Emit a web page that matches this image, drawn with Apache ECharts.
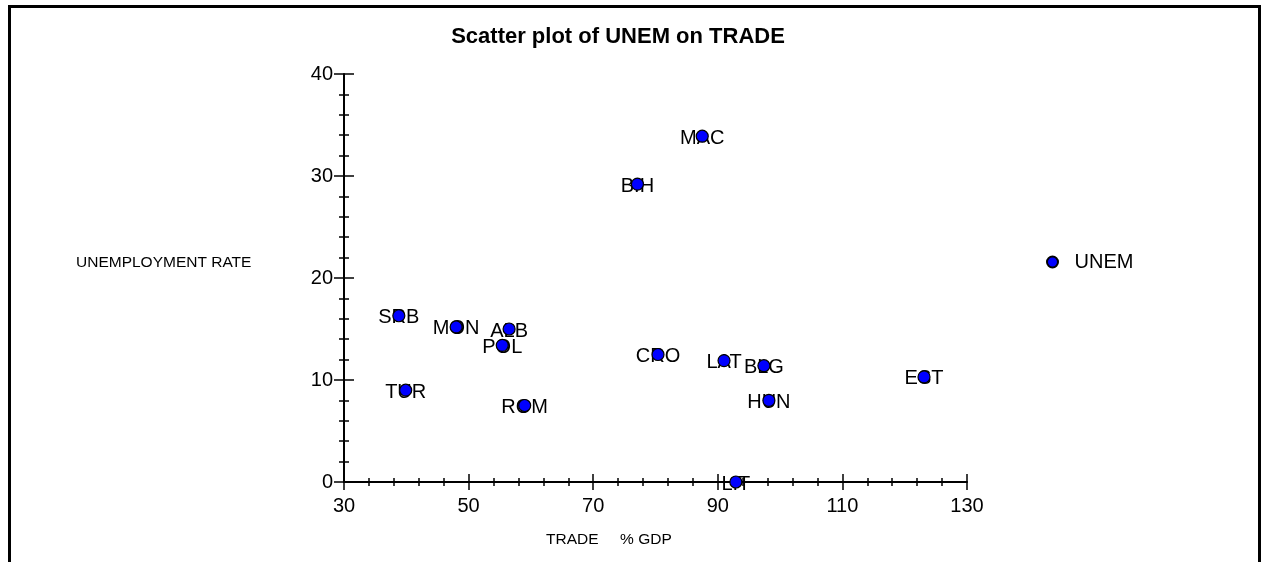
<!DOCTYPE html>
<html>
<head>
<meta charset="utf-8">
<script src="https://cdn.jsdelivr.net/npm/echarts@6/dist/echarts.min.js"></script>
<style>
    html, body { margin: 0; padding: 0; background: #fff; }
    #chart { width: 1261px; height: 562px; }
    .frame {
        position: absolute; left: 8px; top: 5px; width: 1253px; height: 557px;
        box-sizing: border-box; border: 3px solid #000; border-bottom: none;
        pointer-events: none;
    }
</style>
</head>
<body>
<div id="chart"></div>
<div class="frame"></div>
<script>
    // country codes, trade (% GDP) and unemployment rate
    var countries = ['MAC', 'BIH', 'SRB', 'MON', 'ALB', 'POL', 'CRO', 'LAT', 'BLG', 'EST', 'TUR', 'ROM', 'HUN', 'LIT'];
    var trade = [87.5, 77.1, 38.8, 48.0, 56.5, 55.4, 80.4, 91.0, 97.4, 123.1, 39.9, 59.0, 98.2, 92.9];
    var unem = [33.9, 29.2, 16.3, 15.2, 15.0, 13.4, 12.5, 11.9, 11.4, 10.3, 9.0, 7.5, 8.0, 0.0];

    var font = 'Liberation Sans, Arial, sans-serif';
    var ink = '#000';

    var points = countries.map(function (c, i) {
        return { name: c, value: [trade[i], unem[i]] };
    });

    var chart = echarts.init(document.getElementById('chart'));

    // two copies of each axis so the ticks cross the axis line
    function xAxis(outer) {
        return {
            type: 'value', position: 'bottom', min: 30, max: 130, interval: 20,
            axisLine: { show: outer, onZero: false, lineStyle: { color: '#000', width: 2 } },
            axisTick: { show: true, inside: !outer, length: 8, lineStyle: { color: '#000', width: 1.5 } },
            minorTick: { show: true, splitNumber: 5, length: 4, lineStyle: { color: '#000', width: 1.5 } },
            splitLine: { show: false },
            axisLabel: { show: outer, margin: 14, color: ink, fontSize: 20, fontFamily: font }
        };
    }
    function yAxis(outer) {
        return {
            type: 'value', position: 'left', min: 0, max: 40, interval: 10,
            axisLine: { show: outer, onZero: false, lineStyle: { color: '#000', width: 2 } },
            axisTick: { show: true, inside: !outer, length: 10, lineStyle: { color: '#000', width: 1.5 } },
            minorTick: { show: true, splitNumber: 5, length: 5, lineStyle: { color: '#000', width: 1.5 } },
            splitLine: { show: false },
            axisLabel: { show: outer, margin: 11, color: ink, fontSize: 20, fontFamily: font }
        };
    }

    var option = {
        backgroundColor: '#fff',
        animation: false,
        title: {
            text: 'Scatter plot of UNEM on TRADE',
            left: 613, top: 21, textAlign: 'center',
            textStyle: { fontSize: 22, fontWeight: 'bold', color: ink, fontFamily: font }
        },
        grid: { left: 344, right: 294, top: 74, bottom: 80 },
        xAxis: [xAxis(true), xAxis(false)],
        yAxis: [yAxis(true), yAxis(false)],
        legend: {
            data: ['UNEM'],
            left: 1041, top: 247,
            icon: 'circle', itemWidth: 12, itemHeight: 11,
            textStyle: { fontSize: 20, color: ink, fontFamily: font, padding: [0, 0, 0, 11] }
        },
        graphic: [
            { type: 'text', left: 76, top: 255, style: { text: 'UNEMPLOYMENT RATE', fill: ink, font: '15.5px ' + font } },
            { type: 'text', left: 546, top: 532, style: { text: 'TRADE     % GDP', fill: ink, font: '15.5px ' + font } }
        ],
        series: [
            {
                name: 'labels',
                type: 'scatter',
                z: 1,
                silent: true,
                symbolSize: 0,
                itemStyle: { opacity: 1 },
                data: points,
                label: {
                    show: true, position: 'inside', offset: [0, 2],
                    formatter: '{b}', color: ink, textBorderWidth: 0, fontSize: 20, fontFamily: font
                }
            },
            {
                name: 'UNEM',
                type: 'scatter',
                z: 3,
                symbol: 'circle',
                symbolSize: 12,
                itemStyle: { color: '#0000ff', borderColor: '#000', borderWidth: 1.2, opacity: 1 },
                data: points
            }
        ]
    };
    chart.setOption(option);
</script>
</body>
</html>
